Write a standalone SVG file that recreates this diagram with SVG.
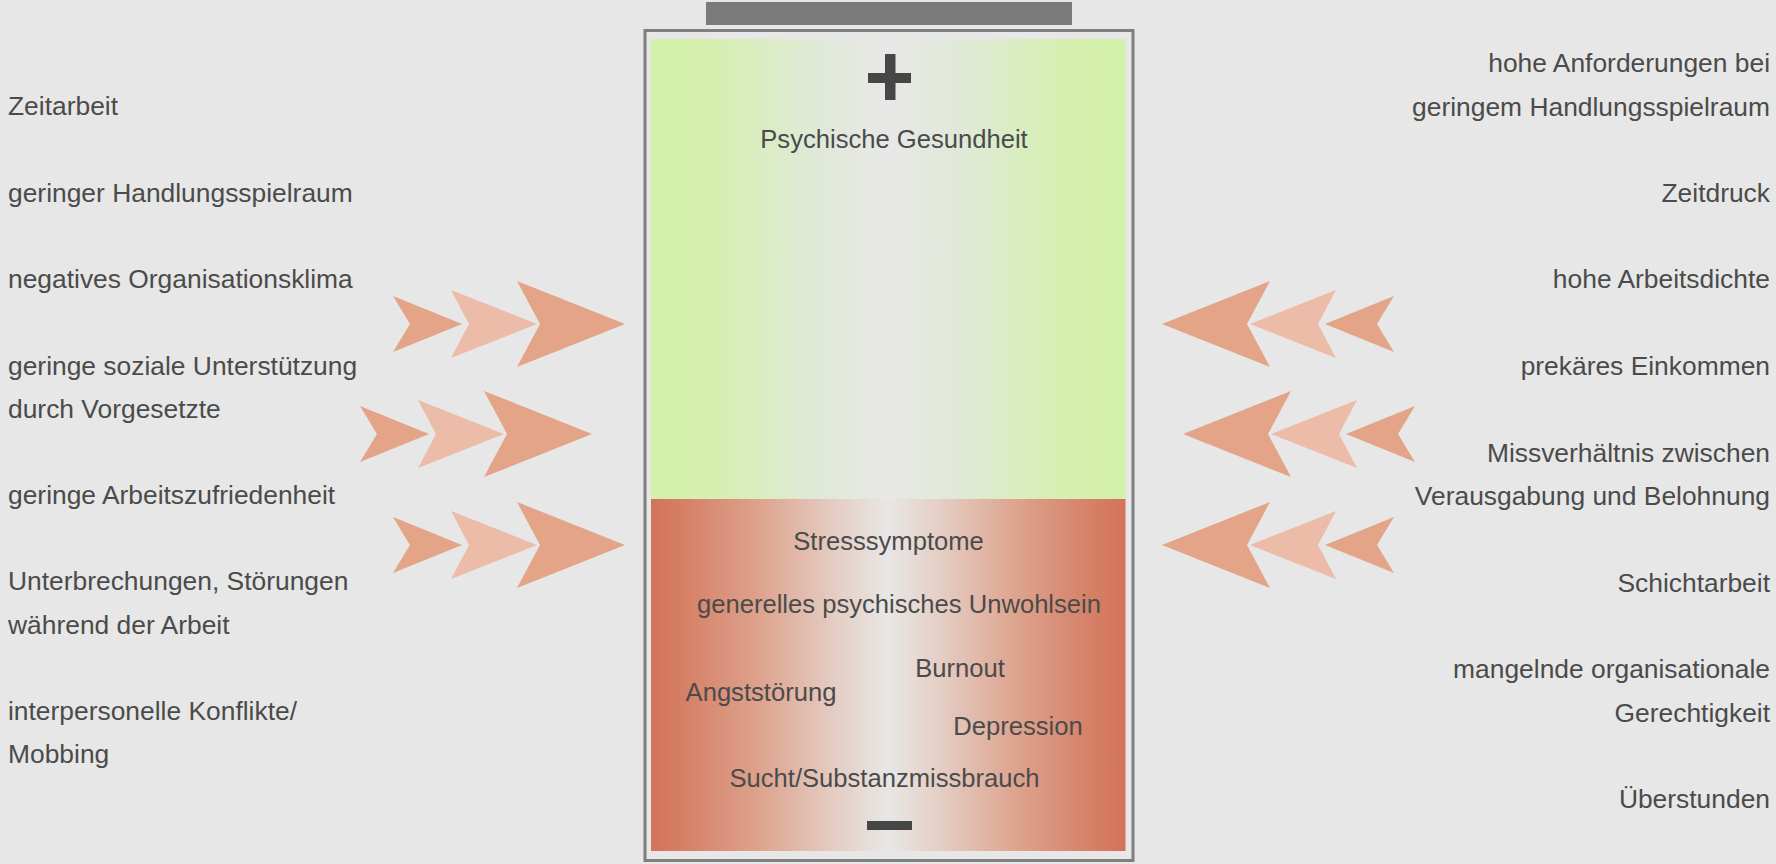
<svg xmlns="http://www.w3.org/2000/svg" xmlns:xlink="http://www.w3.org/1999/xlink" width="1776" height="864" viewBox="0 0 1776 864">
<style>
text{font-family:"Liberation Sans",Arial,sans-serif;fill:#4b4b4b}
.side{font-size:26.4px}
.ctr{font-size:25.6px;text-anchor:middle}
.r{text-anchor:end}
.dk{fill:#e3a488}
.lt{fill:#edbca8}
.sign{fill:#464646}
</style>
<defs>
<linearGradient id="gGreen" x1="651" y1="0" x2="1125.5" y2="0" gradientUnits="userSpaceOnUse">
<stop offset="0" stop-color="#d3f1a9"/>
<stop offset="0.12" stop-color="#d5f0ae"/>
<stop offset="0.35" stop-color="#e0e9d8"/>
<stop offset="0.5" stop-color="#e8e8e7"/>
<stop offset="0.65" stop-color="#e0e9d8"/>
<stop offset="0.88" stop-color="#d5f0ae"/>
<stop offset="1" stop-color="#d3f1a9"/>
</linearGradient>
<linearGradient id="gRed" x1="651" y1="0" x2="1125.5" y2="0" gradientUnits="userSpaceOnUse">
<stop offset="0" stop-color="#d2735a"/>
<stop offset="0.06" stop-color="#d57e64"/>
<stop offset="0.22" stop-color="#dda18b"/>
<stop offset="0.4" stop-color="#e5d0c7"/>
<stop offset="0.5" stop-color="#e8e7e6"/>
<stop offset="0.6" stop-color="#e5d0c7"/>
<stop offset="0.78" stop-color="#dda18b"/>
<stop offset="0.94" stop-color="#d57e64"/>
<stop offset="1" stop-color="#d2735a"/>
</linearGradient>
<g id="chev">
<polygon class="dk" points="393,-28 462,0 393,28 410,0"/>
<polygon class="lt" points="451,-34 537,0 451,34 469,0"/>
<polygon class="dk" points="517,-43 625,0 517,43 540,0"/>
</g>
</defs>
<rect width="1776" height="864" fill="#e6e7e6"/>
<g id="battery">
<rect x="706" y="2" width="366" height="23" fill="#7a7a7a"/>
<rect x="645" y="30.5" width="488" height="830" fill="none" stroke="#7f7f7f" stroke-width="3"/>
<rect x="651" y="39" width="474.5" height="460" fill="url(#gGreen)"/>
<rect x="651" y="499" width="474.5" height="352" fill="url(#gRed)"/>
<rect class="sign" x="868" y="73" width="43" height="10"/>
<rect class="sign" x="885" y="54" width="10.5" height="46"/>
<rect class="sign" x="867" y="821" width="45" height="9"/>
</g>
<g id="health"><text class="ctr" x="894" y="148">Psychische Gesundheit</text></g>
<g id="stress"><text class="ctr" x="888.5" y="550">Stresssymptome</text></g>
<g id="unwohl"><text class="ctr" x="899" y="613">generelles psychisches Unwohlsein</text></g>
<g id="burnout"><text class="ctr" x="960" y="677">Burnout</text></g>
<g id="angst"><text class="ctr" x="761" y="701">Angststörung</text></g>
<g id="depression"><text class="ctr" x="1018" y="735">Depression</text></g>
<g id="sucht"><text class="ctr" x="884.5" y="787">Sucht/Substanzmissbrauch</text></g>
<g id="connectors">
<use xlink:href="#chev" href="#chev" transform="translate(0,324)"/>
<use xlink:href="#chev" href="#chev" transform="translate(-33,434)"/>
<use xlink:href="#chev" href="#chev" transform="translate(0,545)"/>
<use xlink:href="#chev" href="#chev" transform="translate(1787,324) scale(-1,1)"/>
<use xlink:href="#chev" href="#chev" transform="translate(1808,434) scale(-1,1)"/>
<use xlink:href="#chev" href="#chev" transform="translate(1787,545) scale(-1,1)"/>
</g>
<g id="left-factors">
<g id="l1"><text class="side" x="8" y="115">Zeitarbeit</text></g>
<g id="l2"><text class="side" x="8" y="202">geringer Handlungsspielraum</text></g>
<g id="l3"><text class="side" x="8" y="288">negatives Organisationsklima</text></g>
<g id="l4"><text class="side" x="8" y="375">geringe soziale Unterstützung</text><text class="side" x="8" y="418">durch Vorgesetzte</text></g>
<g id="l5"><text class="side" x="8" y="504">geringe Arbeitszufriedenheit</text></g>
<g id="l6"><text class="side" x="8" y="590">Unterbrechungen, Störungen</text><text class="side" x="8" y="634">während der Arbeit</text></g>
<g id="l7"><text class="side" x="8" y="720">interpersonelle Konflikte/</text><text class="side" x="8" y="763">Mobbing</text></g>
</g>
<g id="right-factors">
<g id="r1"><text class="side r" x="1770" y="72">hohe Anforderungen bei</text><text class="side r" x="1770" y="116">geringem Handlungsspielraum</text></g>
<g id="r2"><text class="side r" x="1770" y="202">Zeitdruck</text></g>
<g id="r3"><text class="side r" x="1770" y="288">hohe Arbeitsdichte</text></g>
<g id="r4"><text class="side r" x="1770" y="375">prekäres Einkommen</text></g>
<g id="r5"><text class="side r" x="1770" y="462">Missverhältnis zwischen</text><text class="side r" x="1770" y="505">Verausgabung und Belohnung</text></g>
<g id="r6"><text class="side r" x="1770" y="592">Schichtarbeit</text></g>
<g id="r7"><text class="side r" x="1770" y="678">mangelnde organisationale</text><text class="side r" x="1770" y="722">Gerechtigkeit</text></g>
<g id="r8"><text class="side r" x="1770" y="808">Überstunden</text></g>
</g>
</svg>
